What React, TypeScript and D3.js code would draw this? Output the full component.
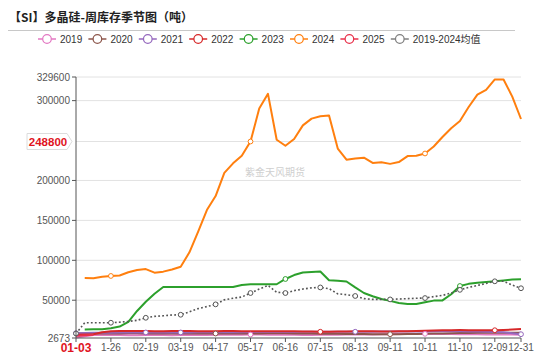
import React from 'react';
import * as d3 from 'd3';

// ---------- data ----------
const titleText = '【SI】多晶硅-周库存季节图（吨）';
const watermark = '紫金天风期货';

const xTickSlots = [0, 4, 8, 12, 16, 20, 24, 28, 32, 36, 40, 44, 48, 51];
const xTickLabels = ['01-03', '1-26', '02-19', '03-19', '04-17', '05-17', '06-16', '07-15', '08-13', '09-11', '10-11', '11-10', '12-09', '12-31'];
const yTickValues = [2673, 50000, 100000, 150000, 200000, 300000, 329600];
const yMin = 2673;
const yMax = 329600;
const pointerValue = 248800;
const pointerCategory = '01-03';

const seriesNames = ['2019', '2020', '2021', '2022', '2023', '2024', '2025', '2019-2024均值'];

const v2019 = [3300, 5000, 6300, 6500, 6400, 6300, 6200, 6200, 6300, 6400, 6300, 6200, 6300, 6400, 6400, 6500, 6600, 6600, 6700, 6800, 7000, 6900, 6800, 6700, 6600, 6600, 6500, 6500, 6600, 6700, 6800, 6900, 7000, 7100, 7200, 7300, 7500, 7600, 7700, 7800, 7900, 7800, 7700, 7600, 7500, 7400, 7300, 7200, 7100, 7000, 6900, 6800];
const v2020 = [8500, 8400, 8300, 8200, 8300, 8400, 8500, 8500, 8400, 8300, 8200, 8200, 8300, 8300, 8400, 8400, 8300, 8300, 8200, 8200, 8300, 8400, 8500, 8600, 8500, 8400, 8300, 8200, 8100, 8000, 7900, 7800, 7700, 7600, 7500, 7500, 7400, 7500, 7600, 7800, 8000, 8200, 8400, 8600, 8800, 9000, 9100, 9200, 9300, 9300, 9200, 9100];
const v2021 = [8700, 8900, 9100, 9300, 9400, 9500, 9500, 9600, 9600, 9600, 9600, 9600, 9600, 9700, 9800, 9800, 9900, 9900, 10000, 10000, 10100, 10100, 10200, 10200, 10300, 10300, 10400, 10400, 10400, 10500, 10500, 10500, 10500, 10600, 10600, 10700, 10700, 10800, 10800, 10900, 10900, 11000, 11000, 11000, 11000, 10900, 10800, 10600, 10300, 9800, 8600, 7400];
const v2022 = [6800, 7000, 7300, 9800, 11200, 11300, 11400, 11400, 11300, 11200, 11200, 11300, 11400, 11300, 11200, 11100, 11200, 11300, 11300, 11200, 11100, 11000, 11100, 11200, 11100, 11000, 10900, 10700, 10500, 10600, 10800, 10900, 11000, 11100, 11000, 10900, 10900, 11000, 11200, 11400, 11700, 12000, 12300, 12500, 12600, 12500, 12400, 12300, 12400, 12700, 13200, 13800];
const v2023 = [null, 13400, 13500, 13700, 14800, 17000, 23000, 36500, 48000, 58000, 66500, 66500, 66500, 66500, 66500, 66500, 66500, 66500, 66500, 69000, 70000, 70000, 70000, 70000, 76600, 81500, 84800, 85300, 85900, 75000, 74500, 73500, 66000, 59000, 55000, 51500, 49200, 46500, 45200, 45200, 47500, 49500, 49800, 57500, 67800, 70500, 72000, 72800, 73700, 74800, 75800, 76300];
const v2024 = [null, 77700, 77600, 79500, 80400, 80900, 85000, 87800, 89000, 84500, 85800, 88500, 92000, 110000, 136000, 163000, 180500, 209500, 221500, 231000, 248800, 290000, 308500, 251000, 243500, 252000, 269000, 277500, 280500, 281500, 240000, 226000, 227500, 228500, 222000, 222800, 220800, 223000, 230500, 231000, 233800, 242500, 254500, 265500, 274500, 292000, 307500, 313500, 326500, 326500, 305000, 277000];
const v2025 = [5600, 6200, 6600];
const vMean = [8300, 21800, 21800, 21800, 21800, 22500, 23500, 24800, 28000, 29800, 30500, 31500, 31800, 35500, 39500, 42000, 44800, 50500, 52500, 54000, 59000, 64000, 68500, 60000, 59000, 62000, 64000, 65500, 66000, 64500, 58000, 57000, 55300, 52000, 51000, 51000, 51000, 51500, 52000, 52500, 52700, 54500, 56000, 59000, 63000, 66000, 68500, 71000, 73700, 73700, 69000, 65000];

const seriesValues = [v2019, v2020, v2021, v2022, v2023, v2024, v2025, vMean];

// ---------- styles ----------
const colors = ['#e377c2', '#8c564b', '#9467bd', '#d62728', '#2ca02c', '#ff7f0e', '#e8304a', '#555555'];
const legendColors = ['#e377c2', '#8c564b', '#9467bd', '#d62728', '#2ca02c', '#ff7f0e', '#e8304a', '#7f7f7f'];
const markerSlots: number[][] = [
  [20, 40],
  [16, 36],
  [0, 8, 12, 32, 51],
  [28, 48],
  [24, 44],
  [4, 20, 40],
  [],
  [0, 4, 8, 12, 16, 20, 24, 28, 32, 36, 40, 44, 48, 51],
];

const W = 550;
const H = 357;
const left = 76;
const right = 521;
const top = 77;
const bottom = 338;
const font = "'Liberation Sans', Arial, 'Noto Sans CJK SC', sans-serif";

export default function App() {
  const x = d3.scaleLinear().domain([0, 51]).range([left, right]);
  const y = d3.scaleLinear().domain([yMin, yMax]).range([bottom, top]);

  const line = d3
    .line<number | null>()
    .defined((d) => d != null)
    .x((_, i) => x(i))
    .y((d) => y(d as number));

  const py = y(pointerValue);

  return (
    <svg
      width={W}
      height={H}
      style={{ position: 'absolute', left: 0, top: 0, background: '#fff' }}
      fontFamily={font}
    >
      {/* title */}
      <text x={9} y={22} fontSize={12} fontWeight={700} fill="#222" fontFamily="'Noto Sans CJK SC', sans-serif">
        {titleText}
      </text>
      <line x1={8} x2={515} y1={30.5} y2={30.5} stroke="#c8c8c8" strokeWidth={1} />

      {/* legend */}
      {seriesNames.map((name, k) => {
        const cx = 47 + k * 50.4;
        return (
          <g key={name}>
            <line x1={cx - 9} x2={cx + 9} y1={39} y2={39} stroke={legendColors[k]} strokeWidth={1.5} />
            <circle cx={cx} cy={39} r={4.3} fill="#fff" stroke={legendColors[k]} strokeWidth={1.2} />
            <text x={cx + 13} y={39} dy="0.35em" fontSize={10} fill="#333">
              {name}
            </text>
          </g>
        );
      })}

      {/* grid */}
      {yTickValues
        .filter((v) => v !== yMin)
        .map((v) => (
          <line key={v} x1={left} x2={right} y1={y(v)} y2={y(v)} stroke="#e2e2e2" strokeWidth={1} />
        ))}
      <line x1={left} x2={right} y1={py} y2={py} stroke="#e2e2e2" strokeWidth={1} />

      {/* watermark */}
      <text x={275} y={176} textAnchor="middle" fontSize={10} fill="#cfcfcf" fontFamily="'Noto Sans CJK SC', sans-serif">
        {watermark}
      </text>

      {/* series lines */}
      {seriesValues.map((vals, k) => (
        <path
          key={seriesNames[k]}
          d={line(vals) || ''}
          fill="none"
          stroke={colors[k]}
          strokeWidth={k === 7 ? 1.6 : 2}
          strokeDasharray={k === 7 ? '1.8,2.2' : undefined}
          strokeLinejoin="round"
        />
      ))}

      {/* markers */}
      {seriesValues.map((vals, k) =>
        markerSlots[k]
          .filter((i) => vals[i] != null)
          .map((i) => (
            <circle
              key={`${k}-${i}`}
              cx={x(i)}
              cy={y(vals[i] as number)}
              r={2.4}
              fill="#fff"
              stroke={colors[k]}
              strokeWidth={1}
            />
          ))
      )}

      {/* axes */}
      <line x1={left} x2={left} y1={top} y2={bottom} stroke="#555" strokeWidth={1} />
      <line x1={left} x2={right} y1={bottom} y2={bottom} stroke="#555" strokeWidth={1} />
      {yTickValues.map((v) => (
        <g key={v}>
          <line x1={left - 4} x2={left} y1={y(v)} y2={y(v)} stroke="#555" />
          <text x={left - 6} y={y(v)} dy="0.35em" textAnchor="end" fontSize={10} fill="#555">
            {v}
          </text>
        </g>
      ))}
      {xTickSlots.map((s, i) => (
        <g key={s}>
          <line x1={x(s)} x2={x(s)} y1={bottom} y2={bottom + 4} stroke="#555" />
          {xTickLabels[i] !== pointerCategory && (
            <text x={x(s)} y={351} textAnchor="middle" fontSize={10} fill="#555">
              {xTickLabels[i]}
            </text>
          )}
        </g>
      ))}

      {/* axis pointer labels */}
      <path
        d={`M27,${py - 8} L67,${py - 8} L72,${py} L67,${py + 8} L27,${py + 8} Z`}
        fill="#fff"
        stroke="#dcdcdc"
        strokeWidth={1}
      />
      <text x={48} y={py} dy="0.36em" textAnchor="middle" fontSize={11.5} fontWeight={700} fill="#e0141e">
        {pointerValue}
      </text>
      <text x={x(xTickSlots[xTickLabels.indexOf(pointerCategory)])} y={352} textAnchor="middle" fontSize={12} fontWeight={700} fill="#e0141e">
        {pointerCategory}
      </text>
    </svg>
  );
}
